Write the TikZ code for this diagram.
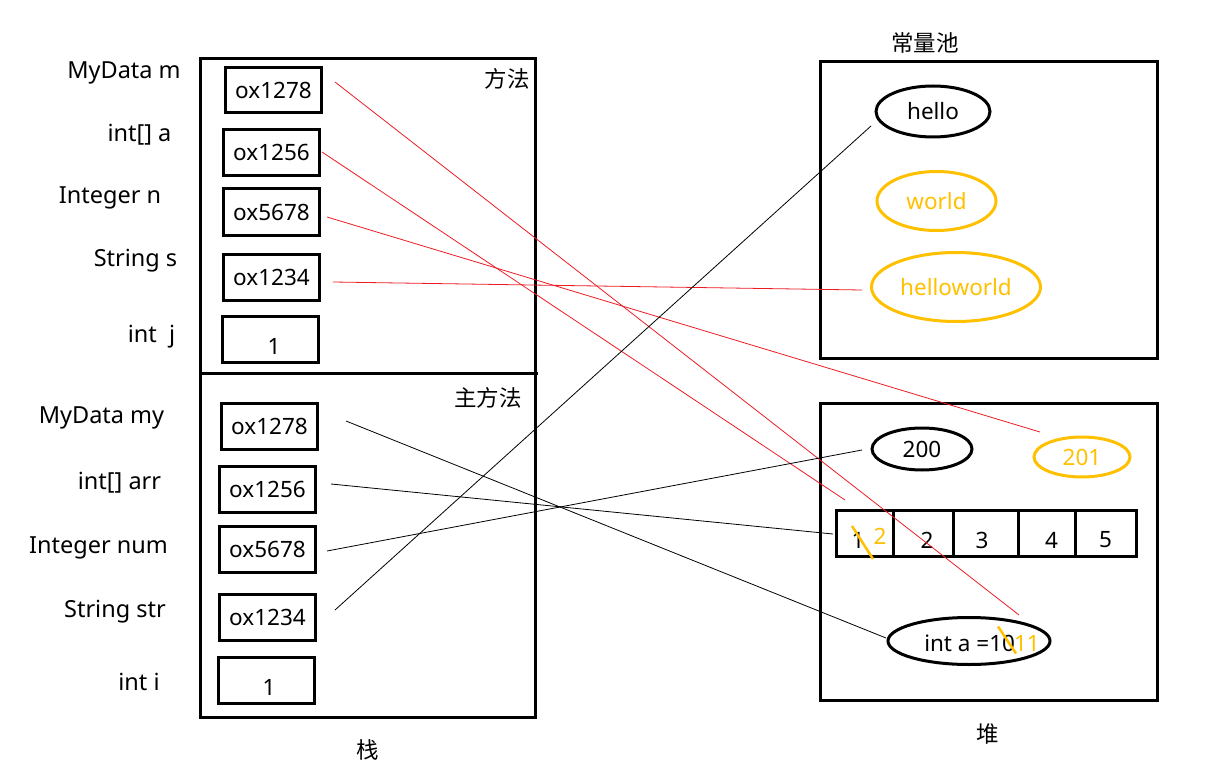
\documentclass[tikz,border=0pt]{standalone}
\usepackage{fontspec}
\setmainfont{Noto Sans}
\newfontfamily\cjk{Noto Sans CJK SC}
\usetikzlibrary{shapes.geometric}
\definecolor{yel}{RGB}{255,192,0}
\definecolor{lred}{RGB}{237,28,36}
\tikzset{
  txt/.style={inner sep=0pt, font=\fontsize{22.5}{26}\selectfont},
  lbl/.style={inner sep=0pt, font=\fontsize{23.5}{27}\selectfont},
  box/.style={draw, line width=3pt, inner sep=0pt, font=\fontsize{22.5}{26}\selectfont},
  frame/.style={draw, line width=3pt, inner sep=0pt},
  oval/.style={ellipse, draw, line width=3pt, inner sep=0pt, font=\fontsize{22.5}{26}\selectfont},
  yoval/.style={oval, draw=yel, text=yel},
  cell/.style={draw, line width=3pt, inner sep=0pt, minimum height=46pt},
  redline/.style={draw=lred, line width=0.8pt},
  blkline/.style={draw=black, line width=0.8pt},
  strike/.style={draw=yel, line width=2.5pt},
}
\begin{document}
\begin{tikzpicture}[x=1pt,y=-1pt]
\useasboundingbox (0,0) rectangle (1211,773);
% stack frame
\node[frame, minimum width=335pt, minimum height=658pt] (stack) at (367.5,388) {};
\draw[line width=3pt] (200,373) -- (538,373);
\node[txt] (fangfa) at (507,79) {\cjk 方法};
\node[txt] (zhufangfa) at (488,398) {\cjk 主方法};
\node[txt] (zhan) at (368,750) {\cjk 栈};
% top method boxes
\node[box, minimum width=96pt, minimum height=45pt] (m1) at (273.5,90) {ox1278};
\node[box, minimum width=96pt, minimum height=46pt] (m2) at (271.5,152.5) {ox1256};
\node[box, minimum width=96pt, minimum height=46pt] (m3) at (271.5,212) {ox5678};
\node[box, minimum width=96pt, minimum height=46pt] (m4) at (271.5,277) {ox1234};
\node[box, minimum width=96pt, minimum height=46pt] (m5) at (270.5,339.5) {};
\node[txt] at (274,346) {1};
% top labels
\node[lbl] (lm) at (124,73) {MyData m};
\node[lbl] (la) at (139.5,135) {int[] a};
\node[lbl] (ln) at (110,198) {Integer n};
\node[lbl] (ls) at (135.5,261) {String s};
\node[lbl] (lj) at (151.5,337) {int~~j};
% bottom main boxes
\node[box, minimum width=96pt, minimum height=46pt] (b1) at (269.5,426) {ox1278};
\node[box, minimum width=96pt, minimum height=46pt] (b2) at (267.5,489) {ox1256};
\node[box, minimum width=96pt, minimum height=46pt] (b3) at (267.5,549.5) {ox5678};
\node[box, minimum width=96pt, minimum height=46pt] (b4) at (267.5,617) {ox1234};
\node[box, minimum width=96pt, minimum height=46pt] (b5) at (266.5,680) {};
\node[txt] at (269,687) {1};
% bottom labels
\node[lbl] (lmy) at (101.5,418) {MyData my};
\node[lbl] (larr) at (119.5,483) {int[] arr};
\node[lbl] (lnum) at (98.5,547.5) {Integer num};
\node[lbl] (lstr) at (115,612) {String str};
\node[lbl] (li) at (139,682) {int i};
% constant pool
\node[frame, minimum width=337pt, minimum height=297pt] (pool) at (988.5,210) {};
\node[txt] (poolt) at (925,42.5) {\cjk 常量池};
\node[oval, minimum width=114pt, minimum height=51pt] (hello) at (933,111.5) {hello};
\node[yoval, minimum width=119pt, minimum height=59pt] (world) at (936.5,201) {world};
\node[yoval, minimum width=169pt, minimum height=69pt] (hw) at (956,287) {helloworld};
% heap
\node[frame, minimum width=337pt, minimum height=297pt] (heap) at (988.5,551.5) {};
\node[txt] (dui) at (988,734) {\cjk 堆};
\node[oval, minimum width=100pt, minimum height=42pt] (n200) at (922,449) {200};
\node[yoval, minimum width=96pt, minimum height=40pt] (n201) at (1082,457) {201};
\node[cell, minimum width=56.5pt] (c1) at (865,533) {};
\node[cell, minimum width=60pt] (c2) at (923.3,533) {};
\node[cell, minimum width=65pt] (c3) at (985.8,533) {};
\node[cell, minimum width=56.7pt] (c4) at (1046.7,533) {};
\node[cell, minimum width=61pt] (c5) at (1105.5,533) {};
\node[txt] at (858,540) {1};
\node[txt, text=yel] at (880,536.5) {2};
\node[txt] at (927,540) {2};
\node[txt] at (982,540) {3};
\node[txt] at (1051.5,540) {4};
\node[txt] at (1105.5,540) {5};
\draw[strike] (852,526) -- (873,559);
\node[oval, minimum width=162pt, minimum height=47pt] (inta) at (969,641) {};
\node[txt] at (982,643) {int a =10\kern-1pt\textcolor{yel}{11}};
\draw[strike] (998,626.5) -- (1016,653.5);
% connector start points
\coordinate (s1) at (335,82);
\coordinate (s2) at (322,152);
\coordinate (s3) at (327,217);
\coordinate (s4) at (333,282);
\coordinate (t1) at (346,421);
\coordinate (t2) at (331,484);
\coordinate (t3) at (327,551);
\coordinate (t4) at (335,610);
\coordinate (e1) at (1019,615);
\coordinate (e2) at (845,500);
\coordinate (e3) at (1040,432);
\coordinate (e4) at (862,290);
\coordinate (f1) at (886,638);
\coordinate (f2) at (833,534);
\coordinate (f3) at (862,450);
\coordinate (f4) at (871,126);
\draw[redline] (s1) -- (e1);
\draw[redline] (s2) -- (e2);
\draw[redline] (s3) -- (e3);
\draw[redline] (s4) -- (e4);
\draw[blkline] (t1) -- (f1);
\draw[blkline] (t2) -- (f2);
\draw[blkline] (t3) -- (f3);
\draw[blkline] (t4) -- (f4);
\end{tikzpicture}
\end{document}
